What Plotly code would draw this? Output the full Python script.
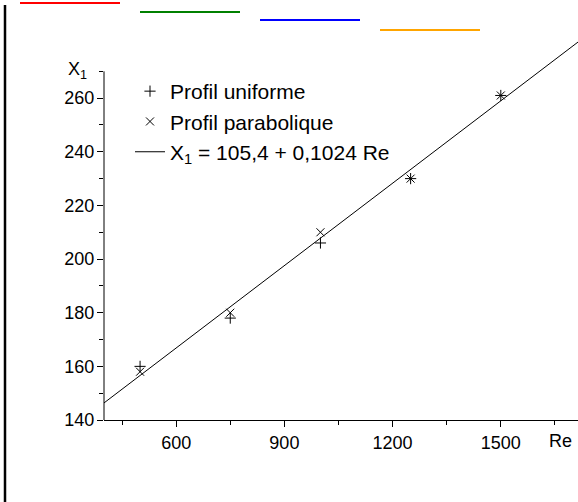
import plotly.graph_objects as go

# Data
re_vals = [500, 750, 1000, 1250, 1500]
x1_uniforme = [160, 178, 206, 230, 261]
x1_parabolique = [158, 180, 210, 230, 261]
fit_a = 105.4
fit_b = 0.1024
fit_re = [400, 1714]
fit_x1 = [fit_a + fit_b * r for r in fit_re]

y_ticks = [140, 160, 180, 200, 220, 240, 260]
y_minor = [150, 170, 190, 210, 230, 250, 270]
x_ticks = [600, 900, 1200, 1500]
x_minor = [450, 750, 1050, 1350, 1650]

FONT = "Liberation Sans, Arial, sans-serif"

W, H = 578, 502
ML, MR, MT, MB = 104, 0, 15, 82
PW = W - ML - MR
PH = H - MT - MB


def px2x(px):
    return (px - ML) / PW


def py2y(py):
    return (H - MB - py) / PH


fig = go.Figure()
fig.add_trace(go.Scatter(
    x=re_vals, y=x1_uniforme, mode="markers", name="Profil uniforme",
    marker=dict(symbol="cross-thin-open", size=8, color="black",
                line=dict(width=1, color="black")),
))
fig.add_trace(go.Scatter(
    x=re_vals, y=x1_parabolique, mode="markers", name="Profil parabolique",
    marker=dict(symbol="x-thin-open", size=8, color="black",
                line=dict(width=1, color="black")),
))
fig.add_trace(go.Scatter(
    x=fit_re, y=fit_x1, mode="lines",
    name="X<sub>1</sub> = 105,4 + 0,1024 Re",
    line=dict(color="black", width=1),
))

fig.update_layout(
    width=W, height=H,
    margin=dict(l=ML, r=MR, t=MT, b=MB, pad=0),
    paper_bgcolor="white", plot_bgcolor="white",
    font=dict(family=FONT, size=18, color="black"),
    showlegend=True,
    legend=dict(
        x=px2x(130), y=py2y(71), xanchor="left", yanchor="top",
        bgcolor="rgba(0,0,0,0)", font=dict(family=FONT, size=21, color="black"),
        tracegroupgap=0,
    ),
    xaxis=dict(
        range=[400, 1714], showgrid=False, zeroline=False,
        showline=True, linecolor="black", linewidth=1,
        tickmode="array", tickvals=x_ticks, ticktext=[str(v) for v in x_ticks],
        ticks="outside", ticklen=6, tickwidth=1, tickcolor="black",
        minor=dict(tickmode="array", tickvals=x_minor, ticks="outside",
                   ticklen=4, tickwidth=1, tickcolor="black", showgrid=False),
        tickfont=dict(family=FONT, size=18),
    ),
    yaxis=dict(
        range=[140, 291], showgrid=False, zeroline=False, showline=False,
        tickmode="array", tickvals=y_ticks, ticktext=[str(v) for v in y_ticks],
        ticks="outside", ticklen=6, tickwidth=1, tickcolor="black",
        minor=dict(tickmode="array", tickvals=y_minor, ticks="outside",
                   ticklen=4, tickwidth=1, tickcolor="black", showgrid=False),
        tickfont=dict(family=FONT, size=18),
        ticklabelstandoff=-1,
    ),
    shapes=[
        dict(type="line", xref="paper", yref="y", x0=0, x1=0, y0=140, y1=270,
             line=dict(color="black", width=1)),
        dict(type="line", xref="paper", yref="paper", layer="above",
             x0=px2x(5), x1=px2x(5), y0=py2y(510), y1=py2y(5),
             line=dict(color="black", width=2.5)),
        # diagnostic lines at several heights
        dict(type="line", xref="paper", yref="paper", layer="above",
             x0=px2x(20), x1=px2x(120), y0=py2y(3), y1=py2y(3),
             line=dict(color="red", width=2)),
        dict(type="line", xref="paper", yref="paper", layer="above",
             x0=px2x(140), x1=px2x(240), y0=py2y(12), y1=py2y(12),
             line=dict(color="green", width=2)),
        dict(type="line", xref="paper", yref="paper", layer="above",
             x0=px2x(260), x1=px2x(360), y0=py2y(20), y1=py2y(20),
             line=dict(color="blue", width=2)),
        dict(type="line", xref="paper", yref="paper", layer="above",
             x0=px2x(380), x1=px2x(480), y0=py2y(30), y1=py2y(30),
             line=dict(color="orange", width=2)),
    ],
    annotations=[
        dict(text="X<sub>1</sub>", xref="paper", yref="paper",
             x=px2x(89), y=py2y(70), xanchor="right", yanchor="middle",
             showarrow=False, font=dict(family=FONT, size=18)),
        dict(text="Re", xref="paper", yref="paper",
             x=px2x(560), y=py2y(441), xanchor="center", yanchor="middle",
             showarrow=False, font=dict(family=FONT, size=18)),
    ],
)

fig.write_html(
    "out.html",
    config={"displayModeBar": False},
    post_script="document.body.style.margin='0';document.body.style.overflow='hidden';",
)
